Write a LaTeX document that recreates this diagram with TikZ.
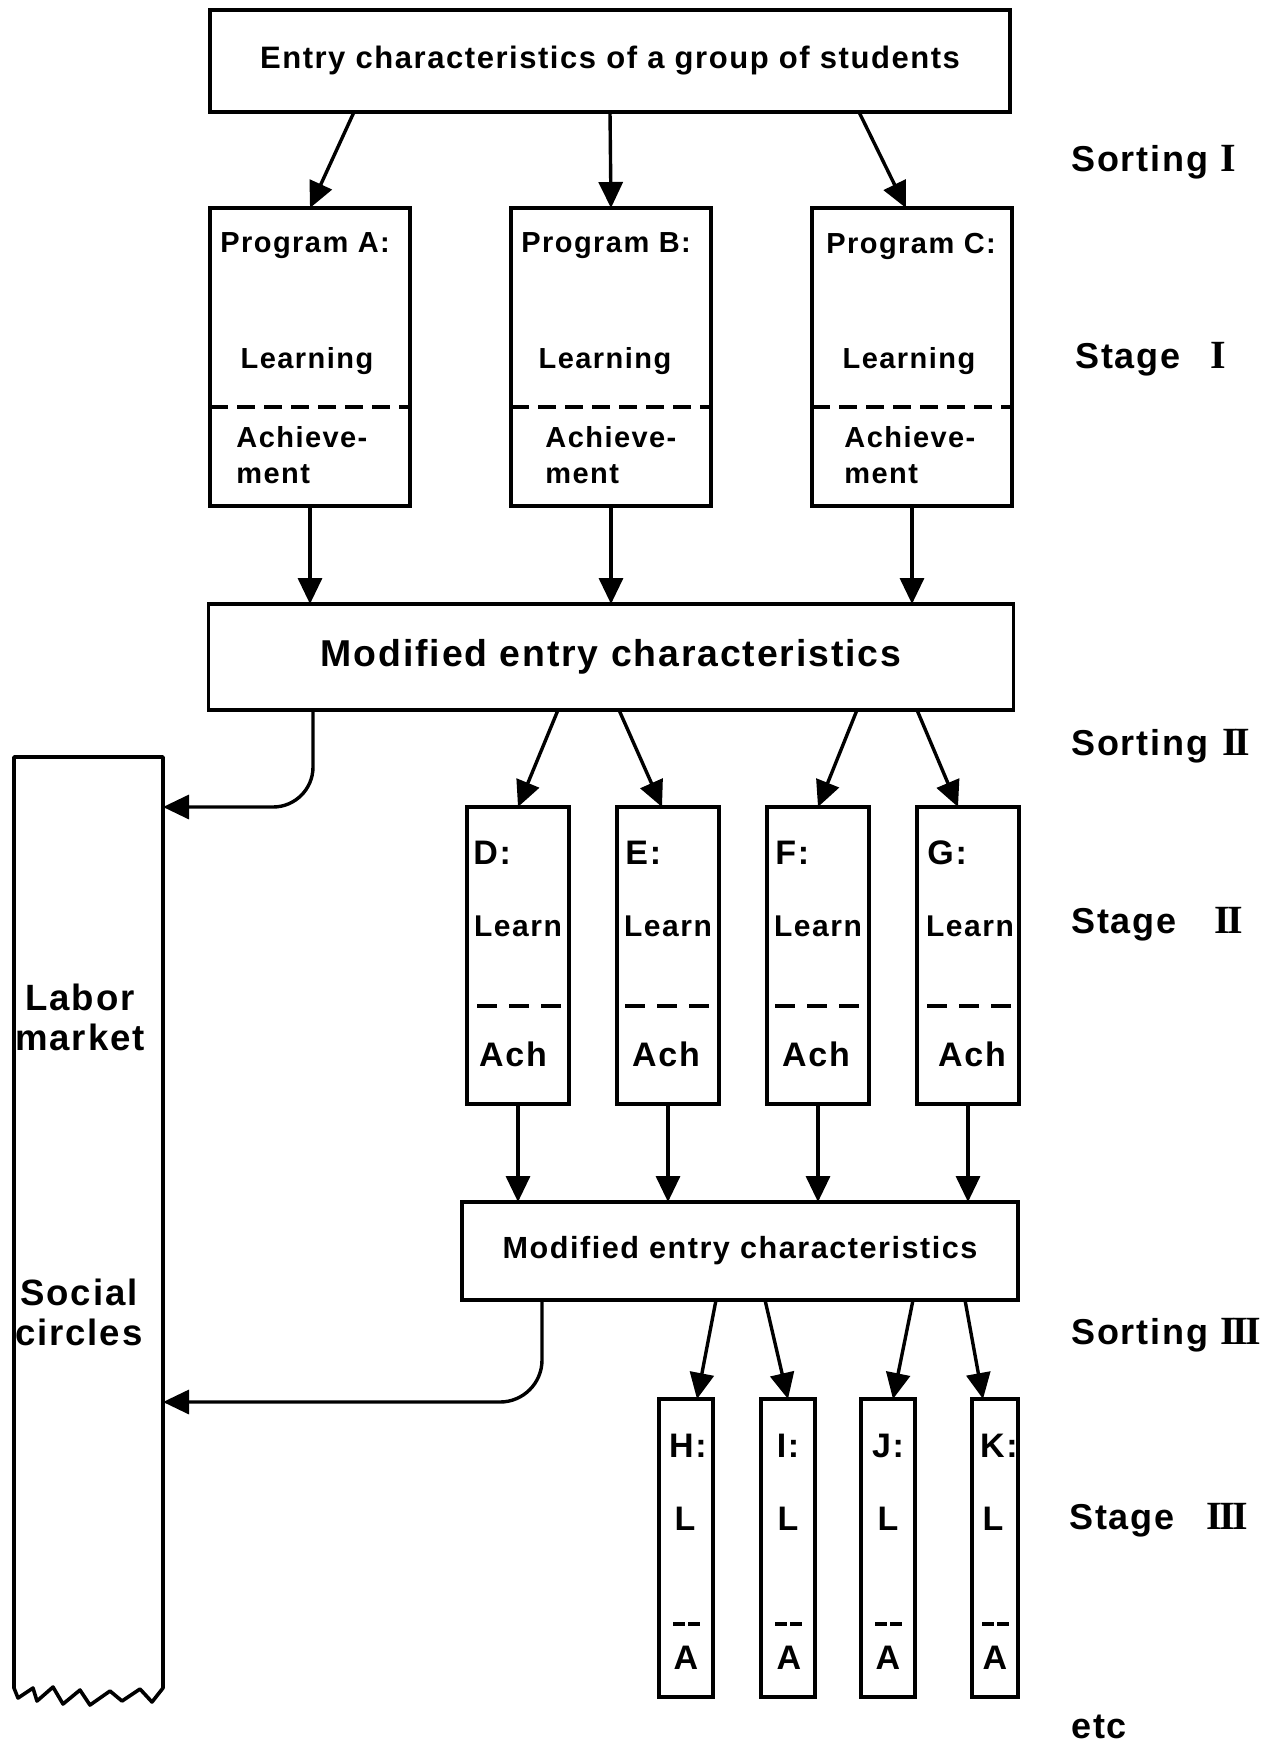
\documentclass[tikz,border=0pt]{standalone}
\usepackage{fontspec}
\setmainfont{Liberation Sans}[LetterSpace=5]
\newfontfamily\romfont{Liberation Serif}
\usetikzlibrary{arrows.meta,calc,positioning}
\newcommand\stagenum[1]{{\romfont\bfseries\fontsize{20}{20}\selectfont #1}}

\begin{document}
\begin{tikzpicture}[
  x=0.5pt,y=-0.5pt,
  box/.style={draw,line width=1.8pt,inner sep=0pt,outer sep=0pt},
  prog/.style={box,minimum width=100pt,minimum height=149pt},
  track/.style={box,minimum width=51pt,minimum height=148.5pt},
  narrow/.style={box,minimum width=27pt,minimum height=149pt},
  arr/.style={-{Triangle[length=13pt,width=12pt]},line width=1.7pt},
  split/.style={line width=2pt,dash pattern=on 9pt off 4.5pt},
  splitshort/.style={line width=2pt,dash pattern=on 10pt off 6pt},
  splittiny/.style={line width=2pt,dash pattern=on 6pt off 1.5pt},
  lbl/.style={inner sep=0pt,font=\bfseries\fontsize{14.5}{18}\selectfont},
  lblmid/.style={inner sep=0pt,font=\bfseries\fontsize{17}{20}\selectfont},
  side/.style={anchor=west,inner sep=0pt,font=\bfseries\fontsize{18}{20}\selectfont}
]
  \useasboundingbox (0,0) rectangle (1276,1745);

  % first sorting
  \node[box,minimum width=400pt,minimum height=51pt,
    font=\bfseries\fontsize{15.5}{18}\selectfont] (entry) at (610,61)
    {Entry characteristics of a group of students};
  \node[prog] (progA) at (310,357) {};
  \node[prog,right=50.5pt of progA] (progB) {};
  \node[prog,right=50.5pt of progB] (progC) {};

  \node[lbl,anchor=west] (pA) at ($(progA.north west)+(10,38)$) {Program A:};
  \node[lbl,anchor=west] (pB) at ($(progB.north west)+(10,38)$) {Program B:};
  \node[lbl,anchor=west] (pC) at ($(progC.north west)+(14,38)$) {Program C:};
  \node[lbl] (lA) at ($(progA.north)+(-3,153)$) {Learning};
  \node[lbl] (lB) at ($(progB.north)+(-6,153)$) {Learning};
  \node[lbl] (lC) at ($(progC.north)+(-3,153)$) {Learning};
  \draw[split] ($(progA.north west)+(0,199)$) -- ($(progA.north east)+(0,199)$);
  \draw[split] ($(progB.north west)+(0,199)$) -- ($(progB.north east)+(0,199)$);
  \draw[split] ($(progC.north west)+(0,199)$) -- ($(progC.north east)+(0,199)$);
  \node[lbl,anchor=west,align=left] (aA) at ($(progA.north west)+(26,247)$) {Achieve-\\ment};
  \node[lbl,anchor=west,align=left] (aB) at ($(progB.north west)+(34,247)$) {Achieve-\\ment};
  \node[lbl,anchor=west,align=left] (aC) at ($(progC.north west)+(32,247)$) {Achieve-\\ment};

  \node[box,minimum width=402.5pt,minimum height=53pt,below=49pt of progB,
    font=\bfseries\fontsize{18.7}{20}\selectfont] (mod1) {Modified entry characteristics};

  \draw[arr] ($(entry.south)+(-256,0)$) -- (progA.north);
  \draw[arr] (entry.south) -- (progB.north);
  \draw[arr] ($(entry.south)+(249,0)$) -- ($(progC.north)+(-6,0)$);
  \draw[arr] (progA.south) -- (progA.south |- mod1.north);
  \draw[arr] (progB.south) -- (progB.south |- mod1.north);
  \draw[arr] (progC.south) -- (progC.south |- mod1.north);

  % second sorting
  \node[track] (trD) at (518,955.5) {};
  \node[track,right=24pt of trD] (trE) {};
  \node[track,right=24pt of trE] (trF) {};
  \node[track,right=24pt of trF] (trG) {};

  \node[lblmid,anchor=west] (nD) at ($(trD.north west)+(6,46)$) {D:};
  \node[lblmid,anchor=west] (nE) at ($(trE.north west)+(8,46)$) {E:};
  \node[lblmid,anchor=west] (nF) at ($(trF.north west)+(8,46)$) {F:};
  \node[lblmid,anchor=west] (nG) at ($(trG.north west)+(10,46)$) {G:};
  \node[inner sep=0pt,font=\bfseries\fontsize{15}{18}\selectfont] (lD) at ($(trD.north)+(0,119)$) {Learn};
  \node[inner sep=0pt,font=\bfseries\fontsize{15}{18}\selectfont] (lE) at ($(trE.north)+(0,119)$) {Learn};
  \node[inner sep=0pt,font=\bfseries\fontsize{15}{18}\selectfont] (lF) at ($(trF.north)+(0,119)$) {Learn};
  \node[inner sep=0pt,font=\bfseries\fontsize{15}{18}\selectfont] (lG) at ($(trG.north)+(2,119)$) {Learn};
  \draw[splitshort] ($(trD.north west)+(10,199)$) -- ($(trD.north east)+(-8,199)$);
  \draw[splitshort] ($(trE.north west)+(8,199)$) -- ($(trE.north east)+(-8,199)$);
  \draw[splitshort] ($(trF.north west)+(8,199)$) -- ($(trF.north east)+(-8,199)$);
  \draw[splitshort] ($(trG.north west)+(10,199)$) -- ($(trG.north east)+(-6,199)$);
  \node[lblmid] (aD) at ($(trD.north)+(-5,247)$) {Ach};
  \node[lblmid] (aE) at ($(trE.north)+(-2,247)$) {Ach};
  \node[lblmid] (aF) at ($(trF.north)+(-2,247)$) {Ach};
  \node[lblmid] (aG) at ($(trG.north)+(4,247)$) {Ach};

  \node[box,minimum width=278pt,minimum height=49pt,
    font=\bfseries\fontsize{15.3}{18}\selectfont] (mod2) at (740,1251) {Modified entry characteristics};

  \draw[arr] ($(mod1.south)+(-53,0)$) -- (trD.north);
  \draw[arr] ($(mod1.south)+(8,0)$) -- ($(trE.north)+(-6,0)$);
  \draw[arr] ($(mod1.south)+(246,0)$) -- (trF.north);
  \draw[arr] ($(mod1.south)+(306,0)$) -- ($(trG.north)+(-10,0)$);
  \draw[arr] (trD.south) -- (trD.south |- mod2.north);
  \draw[arr] (trE.south) -- (trE.south |- mod2.north);
  \draw[arr] (trF.south) -- (trF.south |- mod2.north);
  \draw[arr] (trG.south) -- (trG.south |- mod2.north);

  % third sorting
  \node[narrow] (trH) at (686,1548) {};
  \node[narrow,right=24pt of trH] (trI) {};
  \node[narrow,right=23pt of trI] (trJ) {};
  \node[narrow,minimum width=23pt,right=28.5pt of trJ] (trK) {};

  \node[lblmid] (nH) at ($(trH.north)+(2,47)$) {H:};
  \node[lblmid] (nI) at ($(trI.north)+(0,47)$) {I:};
  \node[lblmid] (nJ) at ($(trJ.north)+(0,47)$) {J:};
  \node[lblmid] (nK) at ($(trK.north)+(4,47)$) {K:};
  \node[lblmid] (lH) at ($(trH.north)+(-1,120)$) {L};
  \node[lblmid] (lI) at ($(trI.north)+(0,120)$) {L};
  \node[lblmid] (lJ) at ($(trJ.north)+(0,120)$) {L};
  \node[lblmid] (lK) at ($(trK.north)+(-2,120)$) {L};
  \draw[splittiny] ($(trH.north)+(-13,225)$) -- ($(trH.north)+(14,225)$);
  \draw[splittiny] ($(trI.north)+(-13,225)$) -- ($(trI.north)+(14,225)$);
  \draw[splittiny] ($(trJ.north)+(-13,225)$) -- ($(trJ.north)+(14,225)$);
  \draw[splittiny] ($(trK.north)+(-13,225)$) -- ($(trK.north)+(14,225)$);
  \node[lblmid] (aH) at ($(trH.north)+(0,259)$) {A};
  \node[lblmid] (aI) at ($(trI.north)+(1,259)$) {A};
  \node[lblmid] (aJ) at ($(trJ.north)+(0,259)$) {A};
  \node[lblmid] (aK) at ($(trK.north)+(0,259)$) {A};

  \draw[arr] ($(mod2.south)+(-24,0)$) -- ($(trH.north)+(11,0)$);
  \draw[arr] ($(mod2.south)+(25,0)$) -- (trI.north);
  \draw[arr] ($(mod2.south)+(173,0)$) -- ($(trJ.north)+(5,0)$);
  \draw[arr] ($(mod2.south)+(225,0)$) -- ($(trK.north)+(-12,0)$);

  % outside column
  \node[minimum width=74.5pt,minimum height=465.5pt,inner sep=0pt,outer sep=0pt] (labor) at (88.5,1222.5) {};
  \draw[line width=1.8pt,line join=round] (labor.south east) -- (labor.north east)
    -- (labor.north west) -- (labor.south west)
    -- ++(4,10) -- ++(15,-10) -- ++(4,13) -- ++(16,-14) -- ++(10,17) -- ++(17,-14)
    -- ++(10,15) -- ++(20,-14) -- ++(12,10) -- ++(18,-12) -- ++(12,13) -- ++(11,-14) -- cycle;
  \node[inner sep=0pt,align=center,font=\bfseries\fontsize{18.3}{20}\selectfont] (market) at (80,1017) {Labor\\market};
  \node[inner sep=0pt,align=center,font=\bfseries\fontsize{18.3}{20}\selectfont] (circles) at (79,1312) {Social\\circles};

  \draw[arr,rounded corners=20pt] ($(mod1.south)+(-298,0)$) |- ($(labor.north east)+(0,50)$);
  \draw[arr,rounded corners=21pt] ($(mod2.south)+(-198,0)$) |- ($(labor.north east)+(0,645)$);

  % stage labels
  \node[side] (sortI) at (1071,162) {Sorting \stagenum{I}};
  \node[side] (stageI) at (1075,359) {Stage\hspace{15pt}\stagenum{I}};
  \node[side] (sortII) at (1071,746) {Sorting\hspace{7pt}\stagenum{I\kern-1.4pt I}};
  \node[side] (stageII) at (1071,924) {Stage\hspace{19pt}\stagenum{I\kern-1.4pt I}};
  \node[side] (sortIII) at (1071,1335) {Sorting \stagenum{I\kern-1.4pt I\kern-1.4pt I}};
  \node[side] (stageIII) at (1069,1520) {Stage\hspace{16pt}\stagenum{I\kern-1.4pt I\kern-1.4pt I}};
  \node[side] (etc) at (1071,1727) {etc};
\end{tikzpicture}
\end{document}
